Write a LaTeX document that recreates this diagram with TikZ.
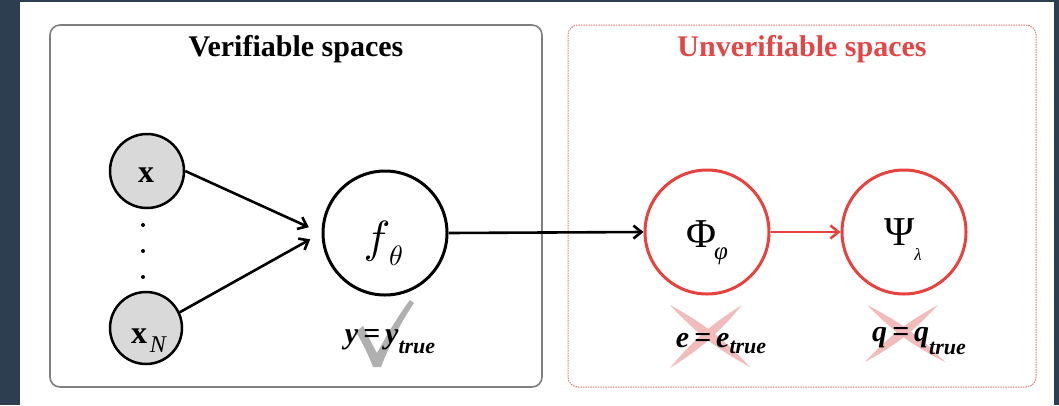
\documentclass[tikz,border=0pt]{standalone}
\usepackage{fontspec}
\setmainfont{Liberation Serif}
\usetikzlibrary{arrows.meta,calc}
\definecolor{navy}{HTML}{2C3E50}
\definecolor{redc}{HTML}{E8423F}
\definecolor{ttlred}{HTML}{E24646}
\definecolor{boxred}{HTML}{E27A7A}
\definecolor{pinkx}{HTML}{F3BCBC}
\definecolor{checkg}{HTML}{B0B0B0}
\definecolor{nodegray}{HTML}{D9D9D9}
\definecolor{boxgray}{HTML}{7F7F7F}
\begin{document}
\begin{tikzpicture}[x=1pt,y=-1pt,
  inode/.style={circle,draw=black,line width=2.5pt,fill=nodegray,minimum size=74pt,inner sep=0pt},
  bnode/.style={circle,draw=black,line width=3pt,minimum size=124pt,inner sep=0pt},
  rnode/.style={circle,draw=redc,line width=3pt,minimum size=124pt,inner sep=0pt},
  arr/.style={line width=2.6pt,-{Straight Barb[length=8pt,width=13pt,line width=2.6pt]}},
  lbl/.style={font=\fontsize{30}{32}\selectfont\bfseries\itshape,inner sep=0pt,anchor=base},
  ttl/.style={font=\fontsize{30}{32}\selectfont\bfseries,inner sep=0pt,anchor=base},
  txt/.style={inner sep=0pt,anchor=base}]
\useasboundingbox (0,0) rectangle (1059,405);
\fill[navy] (0,0) rectangle (1059,405);
\fill[white] (20,2) rectangle (1054,405);
% boxes
\draw[boxgray,line width=1.6pt,rounded corners=10pt] (50,25) rectangle (542,387);
\draw[boxred,line width=1pt,dash pattern=on 1.5pt off 1pt,rounded corners=10pt] (568,25) rectangle (1036,387);
% titles
\node[ttl] (t1) at (296,56) {Verifiable spaces};
\node[ttl,text=ttlred] (t2) at (802,56) {Unverifiable spaces};
% nodes
\node[inode] (x) at (147,171) {};
\node[inode,minimum size=72pt] (xN) at (146,328) {};
\node[bnode] (f) at (385,233) {};
\node[rnode] (Phi) at (707,232) {};
\node[rnode] (Psi) at (904,232) {};
% node texts
\node[txt,font=\fontsize{32}{32}\selectfont\bfseries] (xt) at (146,182) {x};
\node[txt,font=\fontsize{32}{32}\selectfont\bfseries] (xNt) at (139,343) {x};
\node[txt,font=\fontsize{24}{24}\selectfont\itshape] (xNs) at (158,352) {N};
\node[txt] (ft) at (377,252) {\scalebox{4.5}{$f$}};
\node[txt] (fs) at (396,265) {\scalebox{2.8}{$\theta$}};
\node[txt,font=\fontsize{41}{41}\selectfont] (Phit) at (701,247) {Φ};
\node[txt,font=\fontsize{25}{25}\selectfont\itshape] (Phis) at (721,259) {φ};
\node[txt,font=\fontsize{41}{41}\selectfont] (Psit) at (900,245) {Ψ};
\node[txt,font=\fontsize{17}{17}\selectfont\itshape] (Psis) at (918,260) {λ};
% dots
\fill (143,225) circle (2);
\fill (143,251) circle (2);
\fill (143,277) circle (2);
% connectors
\draw[arr,shorten >=14pt] (x.east) -- (f.west);
\draw[arr,shorten >=13pt] (xN.25) -- (f.west);
\draw[arr] (f.east) -- (Phi.west);
\draw[arr,draw=redc] (Phi.east) -- (Psi.west);
% check mark
\fill[checkg] (356,332) -- (363,326) .. controls (369,338) and (373,346) .. (377,353)
  .. controls (388,333) and (398,316) .. (410,300) -- (414,303)
  .. controls (401,322) and (390,344) .. (381,367) -- (373,367)
  .. controls (368,354) and (362,342) .. cycle;
% crosses
\fill[pinkx] (670,305) to[bend left=9] (750,367) to[bend left=9] (670,305);
\fill[pinkx] (742,305) to[bend left=9] (670,368) to[bend left=9] (742,305);
\fill[pinkx] (867,305) to[bend left=9] (945,362) to[bend left=9] (867,305);
\fill[pinkx] (938,305) to[bend left=9] (865,362) to[bend left=9] (938,305);
% labels
\node[lbl] (ly) at (390,343.5) {y\,=\,y\raisebox{-0.33em}{\fontsize{22}{22}\selectfont true}};
\node[lbl] (le) at (721,347.5) {e\,=\,e\raisebox{-0.2em}{\fontsize{22}{22}\selectfont true}};
\node[lbl] (lq) at (919,341) {q\,=\,q\raisebox{-0.45em}{\fontsize{22}{22}\selectfont true}};
\end{tikzpicture}
\end{document}
